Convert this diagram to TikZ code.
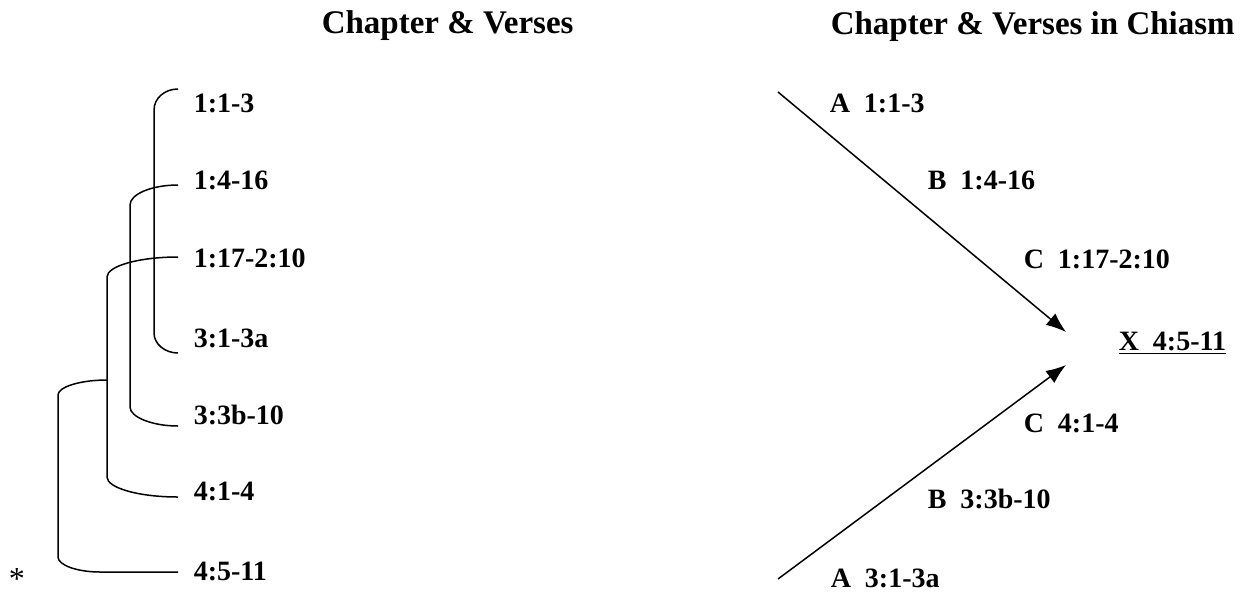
\documentclass[tikz,border=0pt]{standalone}
\usepackage{fontspec}
\setmainfont{Liberation Serif}
\usetikzlibrary{arrows.meta}
\tikzstyle{every path}=[line width=0.75pt]
\tikzstyle{verse}=[anchor=base west, inner sep=0pt, font=\bfseries\fontsize{14}{16}\selectfont]
\tikzstyle{heading}=[anchor=base west, inner sep=0pt, font=\bfseries\fontsize{16.5}{19}\selectfont]
\tikzstyle{toapex}=[-{Latex[length=10pt,width=7.5pt]}]

\begin{document}
\begin{tikzpicture}[x=0.5pt,y=-0.5pt]
            \useasboundingbox (0,0) rectangle (1253,596);

            \node[heading] (headL) at (321,33) {Chapter \& Verses};
            \node[heading] (headR) at (830,34) {Chapter \& Verses in Chiasm};

            \node[verse] (seq1) at (193,112) {1:1-3};
            \node[verse] (seq2) at (193,189) {1:4-16};
            \node[verse] (seq3) at (193,267) {1:17-2:10};
            \node[verse] (seq4) at (193,347) {3:1-3a};
            \node[verse] (seq5) at (193,424) {3:3b-10};
            \node[verse] (seq6) at (193,500) {4:1-4};
            \node[verse] (seq7) at (193,580) {4:5-11};
            \node[anchor=base, inner sep=0pt, font=\fontsize{16}{18}\selectfont] (star) at (17,589) {*};

            \coordinate (o1) at (178,89);  \coordinate (c1) at (178,353);
            \coordinate (o2) at (178,185); \coordinate (c2) at (178,426);
            \coordinate (o3) at (178,257); \coordinate (c3) at (178,497);
            \coordinate (j3) at (107,380); \coordinate (c4) at (178,572);

            \draw (o1) .. controls +(-13,0) and +(0,-12) .. ++(-24,21) -- ++(0,223)
                .. controls +(0,11) and +(-13,0) .. (c1);
            \draw (o2) .. controls +(-26,0) and +(0,-11) .. ++(-48,20) -- ++(0,202)
                .. controls +(0,10) and +(-26,0) .. (c2);
            \draw (o3) .. controls +(-39,0) and +(0,-11) .. ++(-71,20) -- ++(0,200)
                .. controls +(0,11) and +(-39,0) .. (c3);
            \draw (j3) .. controls +(-27,0) and +(0,-8) .. ++(-49,15) -- ++(0,162)
                .. controls +(0,8) and +(-23,0) .. ++(42,15) -- (c4);

            \node[verse] (chA1) at (829,112) {A~~1:1-3};
            \node[verse] (chB1) at (927,189) {B~~1:4-16};
            \node[verse] (chC1) at (1023,268) {C~~1:17-2:10};
            \node[verse] (chX) at (1118,350) {\underline{X~~4:5-11}};
            \node[verse] (chC2) at (1023,432) {C~~4:1-4};
            \node[verse] (chB2) at (927,508) {B~~3:3b-10};
            \node[verse] (chA2) at (830,587) {A~~3:1-3a};

            \coordinate (upfrom) at (778,92);   \coordinate (upapex) at (1066,332);
            \coordinate (lowfrom) at (778,579); \coordinate (lowapex) at (1066,365);
            \draw[toapex] (upfrom) -- (upapex);
            \draw[toapex] (lowfrom) -- (lowapex);
        \end{tikzpicture}
\end{document}
